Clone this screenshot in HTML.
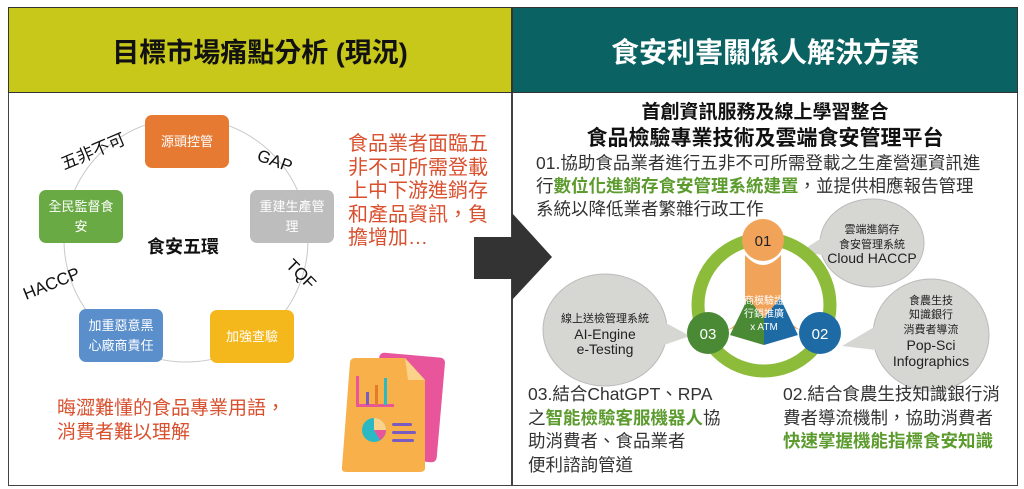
<!DOCTYPE html>
<html><head><meta charset="utf-8"><style>
*{margin:0;padding:0;box-sizing:border-box}
body{width:1024px;height:489px;background:#fff;position:relative;overflow:hidden;font-family:"Liberation Sans","Noto Sans CJK TC",sans-serif}
.a{position:absolute;white-space:nowrap}
.r{color:#d9502f;font-size:20px;line-height:23.5px}
.g{color:#5c9b2e;font-weight:bold}
.t{color:#333;font-size:17.5px;line-height:23px}
.n{position:absolute;width:84px;height:53px;border-radius:7px;color:#fff;font-size:13px;display:flex;align-items:center;justify-content:center;text-align:center;line-height:20px;padding:0 8px;white-space:normal}
</style></head><body>
<div class="a" style="left:8px;top:7px;width:504px;height:86px;background:#c8c81a;border:1.5px solid #333"></div>
<div class="a" style="left:512px;top:7px;width:506px;height:86px;background:#0a6262;border:1.5px solid #333"></div>
<div class="a" style="left:8px;top:31px;width:504px;text-align:center;font-size:27px;font-weight:bold;color:#111">目標市場痛點分析 (現況)</div>
<div class="a" style="left:512px;top:31px;width:506px;text-align:center;font-size:28px;font-weight:bold;color:#fff">食安利害關係人解決方案</div>
<div class="a" style="left:8px;top:93px;width:504px;height:393px;border:1.5px solid #444;border-top:none"></div>
<div class="a" style="left:512px;top:93px;width:506px;height:393px;border:1.5px solid #444;border-top:none"></div>

<svg class="a" style="left:0;top:0" width="1024" height="489">
<circle cx="186" cy="240" r="122" fill="none" stroke="#c9c9c9" stroke-width="1"/>
<path d="M474 237 H512 V213 L552 257 L512 300 V279 H474 Z" fill="#333"/>
<rect x="375" y="355" width="66" height="105" rx="5" fill="#e8559a" transform="rotate(5 408 407)"/>
<path d="M355 358 H405 L425 380 V468 Q425 472 420 472 H346 Q341 472 342 467 L350 362 Q351 358 355 358Z" fill="#f8b04a"/>
<path d="M405 358 L425 380 H408 Z" fill="#fbd28a"/>
<rect x="356" y="376" width="3" height="30" fill="#e8559a"/><rect x="356" y="404" width="38" height="3" fill="#e8559a"/>
<rect x="366" y="392" width="3" height="13" fill="#7a5bbf"/><rect x="375" y="385" width="3" height="20" fill="#e47b2c"/><rect x="384" y="378" width="3" height="27" fill="#2bb9c4"/>
<circle cx="374" cy="430" r="12" fill="#2bb9c4"/><path d="M374 430 V418 A12 12 0 0 1 386 430Z" fill="#fbd28a"/><path d="M374 430 H386 A12 12 0 0 1 380 440Z" fill="#e8559a"/>
<rect x="392" y="423" width="20" height="3" rx="1.5" fill="#7a5bbf"/><rect x="392" y="431" width="24" height="3" rx="1.5" fill="#7a5bbf"/><rect x="392" y="439" width="22" height="3" rx="1.5" fill="#7a5bbf"/>
<g fill="#d6d6d2" stroke="#bbb" stroke-width="1">
<ellipse cx="872" cy="243" rx="52" ry="44"/>
<ellipse cx="605" cy="330" rx="62" ry="56"/>
<ellipse cx="931" cy="335" rx="58" ry="56"/>
</g>
<g fill="#d6d6d2">
<polygon points="826,235 830,256 800,252"/>
<polygon points="664,322 664,345 690,336"/>
<polygon points="876,326 876,350 842,346"/>
</g>
<circle cx="764" cy="305" r="66" fill="none" stroke="#8dbb3a" stroke-width="13"/>
<path d="M745 255 Q763 275 781 255 L781 300 Q783 320 800 330 L764 318 L728 330 Q745 320 745 300Z" fill="#f1a35a"/>
<path d="M748 298 L764 318 L764 345 L730 335 Z" fill="#4a8a35"/>
<path d="M780 298 L764 318 L764 345 L798 335 Z" fill="#1d6aa5"/>
<path d="M748 298 L780 298 L764 318Z" fill="#f1a35a"/>
<circle cx="763" cy="240" r="21" fill="#f1a35a"/>
<circle cx="708" cy="333" r="21" fill="#4a8a35"/>
<circle cx="820" cy="333" r="21" fill="#1d6aa5"/>
<g font-size="15" fill="#222" text-anchor="middle" font-family="Liberation Sans,sans-serif">
<text x="763" y="246">01</text><text x="708" y="339" fill="#fff">03</text><text x="820" y="339" fill="#fff">02</text></g>
<g font-size="10" fill="#fff" text-anchor="middle" font-family="Liberation Sans,Noto Sans CJK TC,sans-serif">
<text x="764" y="304">商模驗證</text><text x="764" y="317">行銷推廣</text><text x="764" y="330">x ATM</text></g>
<g font-size="11" fill="#222" text-anchor="middle" font-family="Liberation Sans,Noto Sans CJK TC,sans-serif">
<text x="872" y="233">雲端進銷存</text><text x="872" y="248">食安管理系統</text><text x="872" y="263" font-size="14">Cloud HACCP</text>
<text x="605" y="322">線上送檢管理系統</text><text x="605" y="339" font-size="14">AI-Engine</text><text x="605" y="354" font-size="14">e-Testing</text>
<text x="931" y="304">食農生技</text><text x="931" y="318">知識銀行</text><text x="931" y="333">消費者導流</text><text x="931" y="350" font-size="14">Pop-Sci</text><text x="931" y="366" font-size="14">Infographics</text>
</g>
<g font-size="17" fill="#111" font-family="Liberation Sans,Noto Sans CJK TC,sans-serif">
<text transform="translate(64 170) rotate(-23)">五非不可</text>
<text transform="translate(256 160) rotate(20)">GAP</text>
<text transform="translate(285 266) rotate(45)">TQF</text>
<text transform="translate(26 300) rotate(-22)">HACCP</text>
</g>
</svg>

<div class="n" style="left:145px;top:115px;background:#e67a33">源頭控管</div>
<div class="n" style="left:250px;top:190px;background:#bdbdbd">重建生產管理</div>
<div class="n" style="left:210px;top:310px;background:#f5b81c">加強查驗</div>
<div class="n" style="left:79px;top:309px;background:#5b8fcb">加重惡意黑心廠商責任</div>
<div class="n" style="left:39px;top:190px;background:#6aaa45">全民監督食安</div>
<div class="a" style="left:147px;top:233px;font-size:18px;font-weight:bold;color:#111">食安五環</div>
<div class="a r" style="left:348px;top:133px">食品業者面臨五<br>非不可所需登載<br>上中下游進銷存<br>和產品資訊，負<br>擔增加…</div>
<div class="a r" style="left:57px;top:397px;font-size:19px;line-height:24px">晦澀難懂的食品專業用語，<br>消費者難以理解</div>

<div class="a" style="left:512px;top:97px;width:506px;text-align:center;font-size:19px;font-weight:bold;color:#111">首創資訊服務及線上學習整合</div>
<div class="a" style="left:512px;top:122px;width:506px;text-align:center;font-size:21px;font-weight:bold;color:#111">食品檢驗專業技術及雲端食安管理平台</div>
<div class="a t" style="left:536px;top:152px">01.協助食品業者進行五非不可所需登載之生產營運資訊進<br>行<span class="g">數位化進銷存食安管理系統建置</span>，並提供相應報告管理<br>系統以降低業者繁雜行政工作</div>
<div class="a t" style="left:528px;top:383px;line-height:23.5px">03.結合ChatGPT、RPA<br>之<span class="g">智能檢驗客服機器人</span>協<br>助消費者、食品業者<br>便利諮詢管道</div>
<div class="a t" style="left:783px;top:383px;line-height:23.5px">02.結合食農生技知識銀行消<br>費者導流機制，協助消費者<br><span class="g">快速掌握機能指標食安知識</span></div>
</body></html>
